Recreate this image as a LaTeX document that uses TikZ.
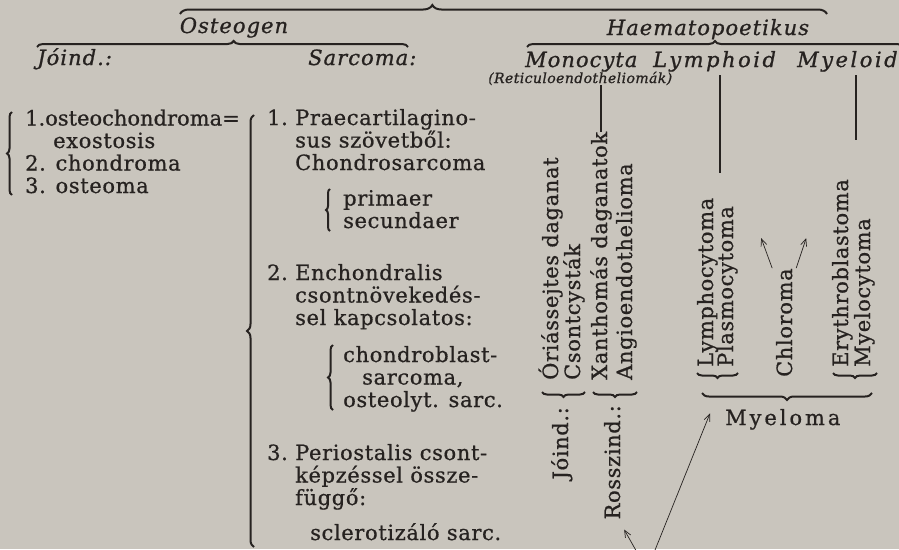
\documentclass[tikz,border=0pt]{standalone}
\usepackage{fontspec}
\setmainfont{DejaVu Serif}[UprightFeatures={FakeBold=0.7},ItalicFeatures={FakeBold=0.9}]
\usetikzlibrary{arrows.meta,calc,decorations.pathreplacing}
\definecolor{paper}{RGB}{201,197,189}
\definecolor{ink}{RGB}{38,34,32}
\newcommand\bodyfont{\fontsize{21}{22.5}\selectfont\addfontfeature{LetterSpace=3}}
\newcommand\headfont{\fontsize{21}{24}\selectfont\itshape\addfontfeature{LetterSpace=5}}
\tikzset{
  txt/.style={anchor=base west,inner sep=0pt,align=left,font=\bodyfont},
  hd/.style={anchor=base west,inner sep=0pt,font=\headfont},
  vtxt/.style={txt,rotate=90},
  brc/.style={decorate,decoration={brace,amplitude=#1},line width=2pt},
  brc/.default=5,
  rule/.style={line width=2.2pt},
  ptr/.style={-{Straight Barb[length=7pt,width=6pt]},line width=0.7pt}
}

\begin{document}
\begin{tikzpicture}[x=1pt,y=-1pt,color=ink]
  \clip (0,0) rectangle (899,549);
  \fill[paper] (0,0) rectangle (899,549);
  % headings
  \node[hd,anchor=base] (osteo) at (234,33) {Osteogen};
  \node[hd,anchor=base] (haem) at (708,35) {Haematopoetikus};
  \node[hd] (joi) at (37,65) {Jóind.:};
  \node[hd] (sarc) at (308,65) {Sarcoma:};
  \node[hd] (mono) at (525,67) {Monocyta};
  \node[hd] (lymph) at (653,67) {\addfontfeature{LetterSpace=12}Lymphoid};
  \node[hd] (myel) at (797,67) {\addfontfeature{LetterSpace=12}Myeloid};
  \node[hd,font=\fontsize{14}{15}\selectfont\itshape\addfontfeature{LetterSpace=3}] (reti) at (488,83) {(Reticuloendotheliomák)};
  \draw[brc=9,decoration={aspect=0.39}] (180,14) -- (827,14);
  \draw[brc=6,decoration={aspect=0.53}] (37,47) -- (408,47);
  \draw[brc=6] (527,47) -- (903,47);
  % jóindulatú (multi-line nodes sit on their last baseline)
  \draw[brc=5] (12,195) -- (12,112);
  \node[txt] (jo) at (25,193) {{\addfontfeature{LetterSpace=0}1.osteochondroma=}\\\hspace*{28pt}exostosis\\2. chondroma\\3. osteoma};
  % sarcoma
  \draw[brc=7] (254,547) -- (254,115);
  \node[txt] (n1) at (267,125) {1.};
  \node[txt] (s1) at (295,170) {Praecartilagino-\\sus szövetből:\\Chondrosarcoma};
  \draw[brc=4] (330,231) -- (330,189);
  \node[txt] (s1a) at (343,228) {primaer\\secundaer};
  \node[txt] (n2) at (267,280) {2.};
  \node[txt] (s2) at (295,325) {Enchondralis\\csontnövekedés-\\sel kapcsolatos:};
  \draw[brc=5] (333,410) -- (333,345);
  \node[txt] (s2a) at (343,407) {chondroblast-\\\hspace*{19pt}sarcoma,\\osteolyt. sarc.};
  \node[txt] (n3) at (267,460) {3.};
  \node[txt] (s3) at (295,505) {Periostalis csont-\\képzéssel össze-\\függő:};
  \node[txt] (s3a) at (310,540) {sclerotizáló sarc.};
  % monocyta
  \node[vtxt] (ori) at (558,380) {Óriássejtes daganat};
  \node[vtxt] (cso) at (580,380) {Csontcysták};
  \node[vtxt] (xan) at (607,380) {Xanthomás daganatok};
  \node[vtxt] (ang) at (632,380) {Angioendothelioma};
  \draw[rule] (xan.east) -- (xan.east |- reti.south);
  \draw[brc=5] (585,392) -- (542,392);
  \draw[brc=5] (637,392) -- (593,392);
  \node[vtxt,anchor=base east] (jo2) at (568,407) {Jóind.:};
  \node[vtxt,anchor=base east] (rossz) at (620,405) {Rosszind.:};
  % lymphoid, myeloid
  \draw[rule] (720,75) -- (720,173);
  \draw[rule] (856,75) -- (856,140);
  \node[vtxt] (lym) at (713,367) {Lymphocytoma};
  \node[vtxt] (pla) at (733,367) {Plasmocytoma};
  \node[vtxt] (chl) at (792,377) {Chloroma};
  \node[vtxt] (ery) at (848,367) {Erythroblastoma};
  \node[vtxt] (mye) at (870,367) {Myelocytoma};
  \draw[brc=5] (738,373) -- (697,373);
  \draw[brc=5] (877,373) -- (833,373);
  \draw[brc=7] (872,393) -- (702,393);
  \node[txt] (mlm) at (725,425) {\addfontfeature{LetterSpace=14}Myeloma};
  \coordinate (chlA) at ($(chl.east)+(-23,-30)$);
  \coordinate (chlB) at ($(chl.east)+(22,-30)$);
  \draw[ptr] ($(chl.east)+(-12,0)$) -- (chlA);
  \draw[ptr] ($(chl.east)+(12,0)$) -- (chlB);
  % from below
  \coordinate (src) at (647,570);
  \coordinate (mtip) at ($(mlm.west)+(-15,-6)$);
  \coordinate (rtip) at ($(rossz.west)+(12,10)$);
  \draw[ptr] (src) -- (mtip);
  \draw[ptr] (src) -- (rtip);
\end{tikzpicture}
\end{document}
